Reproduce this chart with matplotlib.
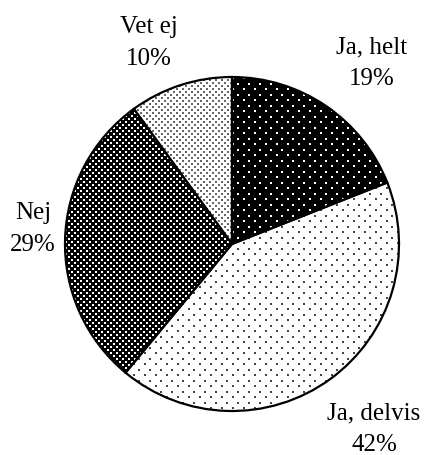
import numpy as np
import matplotlib.pyplot as plt

labels = ["Ja, helt", "Ja, delvis", "Nej", "Vet ej"]
shares = [19, 42, 29, 10]

# fill look per slice: face colour, dot colour, dot spacing in px (dx, dy), staggered rows
faces = ["black", "white", "black", "white"]
dot_colors = ["white", "#444444", "white", "#666666"]
dot_steps = [(11, 5.5, True), (11, 5.5, True), (6, 3, True), (6, 3, True)]

# label centres in data units (pie radius = 1)
label_pos = [(0.838, 1.084), (0.85, -1.108), (-1.192, 0.090), (-0.497, 1.204)]

R_PX = 167.0  # pie radius in pixels


def dot_grid(dx, dy, stagger):
    dx, dy = dx / R_PX, dy / R_PX
    pts_x, pts_y = [], []
    for i, y in enumerate(np.arange(-1.05, 1.05, dy)):
        off = dx / 2 if (stagger and i % 2) else 0
        xs = np.arange(-1.05, 1.05, dx) + off
        pts_x.extend(xs)
        pts_y.extend([y] * len(xs))
    return np.array(pts_x), np.array(pts_y)


plt.rcParams['font.family'] = ['Liberation Serif', 'DejaVu Serif']

fig = plt.figure(figsize=(4.31, 4.55), dpi=100)
ax = fig.add_axes([0, 0, 1, 1])

wedges, _ = ax.pie(shares, startangle=90, counterclock=False, colors=faces,
                   wedgeprops=dict(edgecolor="black", linewidth=0))

for w, col, (dx, dy, st) in zip(wedges, dot_colors, dot_steps):
    gx, gy = dot_grid(dx, dy, st)
    sc = ax.scatter(gx, gy, s=0.8, marker="s", c=col, linewidths=0, zorder=2)
    sc.set_clip_path(w)

# outlines on top of the dots
ax.pie(shares, startangle=90, counterclock=False,
       wedgeprops=dict(fill=False, edgecolor="black", linewidth=1.6, zorder=3))

for lab, val, (x, y) in zip(labels, shares, label_pos):
    ax.text(x, y, f"{lab}\n{val}%", ha="center", va="center",
            fontsize=18, linespacing=1.55, multialignment="center")

ax.set_xlim(-232 / R_PX, (431 - 232) / R_PX)
ax.set_ylim(-(455 - 244) / R_PX, 244 / R_PX)
ax.axis("off")

fig.savefig("out.png", dpi=100)
